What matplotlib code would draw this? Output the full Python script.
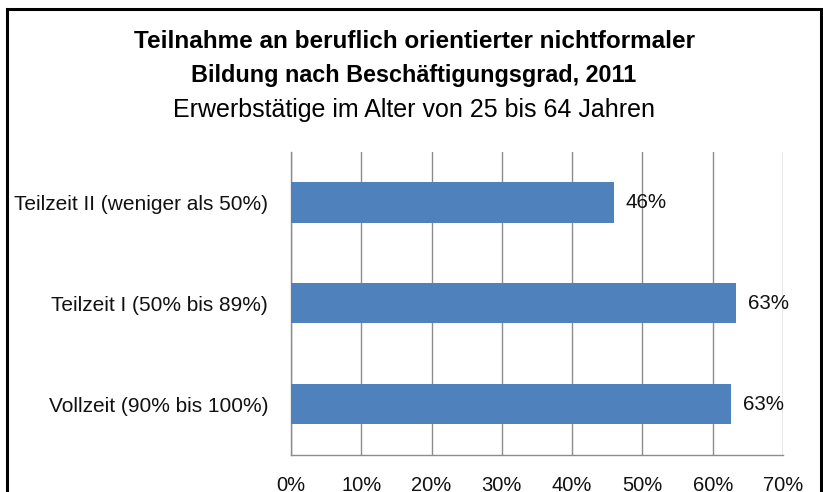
import matplotlib
matplotlib.use("Agg")
import matplotlib.pyplot as plt
from matplotlib.patches import Rectangle

plt.rcParams['font.family'] = ['Liberation Sans', 'DejaVu Sans']

categories = ["Vollzeit (90% bis 100%)", "Teilzeit I (50% bis 89%)", "Teilzeit II (weniger als 50%)"]
values = [62.6, 63.3, 45.9]
value_labels = ["63%", "63%", "46%"]
xticks = [0, 10, 20, 30, 40, 50, 60, 70]

W, H = 823, 492
fig = plt.figure(figsize=(W / 100, H / 100), dpi=100)
ax = fig.add_axes([291 / W, 1 - 454.6 / H, (783 - 291) / W, (454.6 - 152) / H])

grid_col = "#8c8c8c"
ypos = range(len(categories))
ax.barh(ypos, values, height=0.4, color="#4f81bd", zorder=3)
for y, v, lab in zip(ypos, values, value_labels):
    ax.annotate(lab, (v, y), xytext=(8.5, 0), textcoords="offset points",
                va="center", ha="left", fontsize=14.8, color="#111111", zorder=4)

ax.set_xlim(0, 70)
ax.set_ylim(-0.5, 2.5)
ax.set_xticks(xticks)
ax.set_xticklabels([f"{t}%" for t in xticks], fontsize=14.5, color="#111111")
ax.set_yticks(list(ypos))
ax.set_yticklabels(categories, fontsize=15, color="#111111")
ax.tick_params(axis="x", length=0, pad=15.2)
ax.tick_params(axis="y", length=0, pad=16.5)
ax.grid(axis="x", color=grid_col, linewidth=1, zorder=0)
for s in ["top", "right"]:
    ax.spines[s].set_visible(False)
for s in ["left", "bottom"]:
    ax.spines[s].set_color(grid_col)
    ax.spines[s].set_linewidth(1)

cx = 414 / W
fig.text(cx, 1 - 48 / H, "Teilnahme an beruflich orientierter nichtformaler",
         ha="center", va="baseline", fontsize=17.5, fontweight="bold")
fig.text(cx, 1 - 82 / H, "Bildung nach Beschäftigungsgrad, 2011",
         ha="center", va="baseline", fontsize=16.8, fontweight="bold")
fig.text(cx, 1 - 117 / H, "Erwerbstätige im Alter von 25 bis 64 Jahren",
         ha="center", va="baseline", fontsize=18)

fig.patches.append(Rectangle((7 / W, -0.1), (821 - 7) / W, 1.1 - 8.5 / H,
                             transform=fig.transFigure, fill=False,
                             edgecolor="black", linewidth=2.2, clip_on=False))

fig.savefig("out.png", dpi=100)
